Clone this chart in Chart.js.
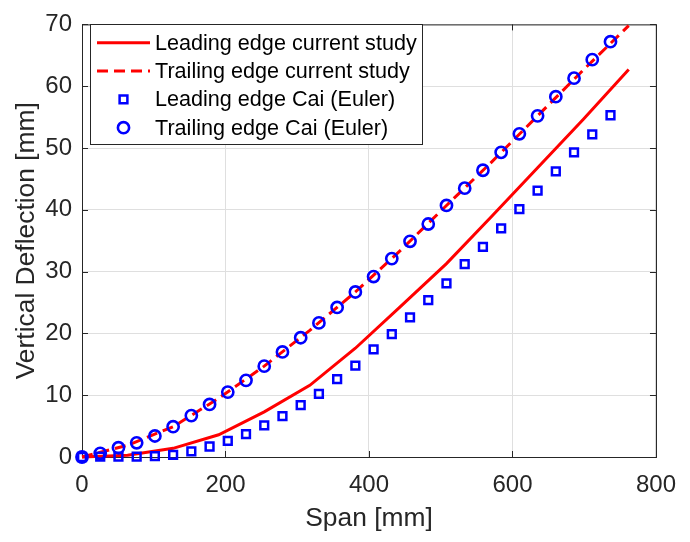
<!DOCTYPE html>
<html>
<head>
<meta charset="utf-8">
<script src="https://cdn.jsdelivr.net/npm/chart.js@4/dist/chart.umd.min.js"></script>
<style>
  body { margin: 0; background: #fff; }
  #wrap { width: 690px; height: 542px; }
</style>
</head>
<body>
<div id="wrap"><canvas id="deflChart" width="690" height="542"></canvas></div>
<script>
// Cai (Euler) reference points, span in mm
const caiSpan = [0, 25.4, 50.8, 76.2, 101.6, 127, 152.4, 177.8, 203.2, 228.6, 254, 279.4, 304.8, 330.2, 355.6,
  381, 406.4, 431.8, 457.2, 482.6, 508, 533.4, 558.8, 584.2, 609.6, 635, 660.4, 685.8, 711.2, 736.6];
const caiLeading = [0, 0.05, 0.05, 0.05, 0.15, 0.35, 0.9, 1.7, 2.6, 3.7, 5.1, 6.6, 8.4, 10.2, 12.6,
  14.8, 17.4, 19.9, 22.6, 25.4, 28.1, 31.2, 34.0, 37.0, 40.1, 43.1, 46.2, 49.3, 52.2, 55.3];
const caiTrailing = [0, 0.6, 1.5, 2.3, 3.4, 4.9, 6.7, 8.5, 10.5, 12.4, 14.7, 17.0, 19.3, 21.7, 24.2,
  26.7, 29.2, 32.1, 34.9, 37.7, 40.7, 43.5, 46.4, 49.3, 52.3, 55.2, 58.3, 61.3, 64.3, 67.2];

// current study nodes
const studySpan = [0, 63.5, 127, 190.5, 254, 317.5, 381, 444.5, 508, 571.5, 635, 698.5, 762];
const studyLeading = [0, 0.3, 1.4, 3.6, 7.3, 11.6, 17.6, 24.4, 31.3, 39.0, 46.8, 54.6, 62.7];
const studyTrailing = [0, 1.9, 4.9, 9.5, 14.7, 20.5, 26.7, 33.5, 40.7, 47.8, 55.2, 62.6, 69.8];

const xTicks = [0, 200, 400, 600, 800];
const yTicks = [0, 10, 20, 30, 40, 50, 60, 70];

const FONT = "'Liberation Sans', Arial, Helvetica, sans-serif";
const AXIS_COLOR = "#262626";

function toPoints(xs, ys) {
  return xs.map((x, i) => ({ x: x, y: ys[i] }));
}

// box + inward ticks like matlab
const boxAxes = {
  id: "boxAxes",
  beforeDatasetsDraw(chart) {
    const { ctx, chartArea: a, scales } = chart;
    ctx.save();
    ctx.strokeStyle = AXIS_COLOR;
    ctx.lineWidth = 1;
    ctx.strokeRect(a.left + 0.5, a.top + 0.5, a.right - a.left, a.bottom - a.top);
    ctx.beginPath();
    xTicks.forEach(v => {
      const px = Math.round(scales.x.getPixelForValue(v)) + 0.5;
      ctx.moveTo(px, a.bottom);
      ctx.lineTo(px, a.bottom - 6);
      ctx.moveTo(px, a.top);
      ctx.lineTo(px, a.top + 6);
    });
    yTicks.forEach(v => {
      const py = Math.round(scales.y.getPixelForValue(v)) + 0.5;
      ctx.moveTo(a.left, py);
      ctx.lineTo(a.left + 6, py);
      ctx.moveTo(a.right, py);
      ctx.lineTo(a.right - 6, py);
    });
    ctx.stroke();
    ctx.restore();
  }
};

// legend box in the upper left corner
const boxLegend = {
  id: "boxLegend",
  afterDraw(chart) {
    const ctx = chart.ctx;
    const box = { left: 90.5, top: 24.5, width: 332, height: 120 };
    const rows = [42.7, 71, 99.3, 127.7];
    ctx.save();
    ctx.fillStyle = "#fff";
    ctx.fillRect(box.left, box.top, box.width, box.height);
    ctx.strokeStyle = AXIS_COLOR;
    ctx.lineWidth = 1;
    ctx.strokeRect(box.left, box.top, box.width, box.height);

    chart.data.datasets.forEach((ds, i) => {
      const y = rows[i];
      if (ds.showLine) {
        ctx.strokeStyle = ds.borderColor;
        ctx.lineWidth = ds.borderWidth;
        ctx.setLineDash(ds.borderDash || []);
        ctx.beginPath();
        ctx.moveTo(97, y);
        ctx.lineTo(150, y);
        ctx.stroke();
        ctx.setLineDash([]);
      } else {
        ctx.strokeStyle = ds.pointBorderColor;
        ctx.fillStyle = "rgba(0,0,0,0)";
        ctx.lineWidth = ds.pointBorderWidth;
        Chart.helpers.drawPoint(ctx, {
          pointStyle: ds.pointStyle,
          radius: ds.pointRadius,
          borderWidth: ds.pointBorderWidth,
          rotation: 0
        }, 123.5, y);
      }
      ctx.fillStyle = "#000";
      ctx.font = "21.6px " + FONT;
      ctx.textBaseline = "middle";
      ctx.textAlign = "left";
      ctx.fillText(ds.label, 155, y + 1);
    });
    ctx.restore();
  }
};

const ctx = document.getElementById("deflChart").getContext("2d");

new Chart(ctx, {
  type: "scatter",
  data: {
    datasets: [
      {
        label: "Leading edge current study",
        data: toPoints(studySpan, studyLeading),
        showLine: true,
        borderColor: "#ff0000",
        borderWidth: 3,
        pointRadius: 0,
        order: 4,
        clip: 12
      },
      {
        label: "Trailing edge current study",
        data: toPoints(studySpan, studyTrailing),
        showLine: true,
        borderColor: "#ff0000",
        borderWidth: 3,
        borderDash: [11, 6],
        pointRadius: 0,
        order: 3,
        clip: 12
      },
      {
        label: "Leading edge Cai (Euler)",
        data: toPoints(caiSpan, caiLeading),
        showLine: false,
        pointStyle: "rect",
        pointRadius: 5.5,
        pointBorderWidth: 2.5,
        pointBorderColor: "#0000ff",
        pointBackgroundColor: "rgba(0,0,0,0)",
        order: 2,
        clip: 12
      },
      {
        label: "Trailing edge Cai (Euler)",
        data: toPoints(caiSpan, caiTrailing),
        showLine: false,
        pointStyle: "circle",
        pointRadius: 5.6,
        pointBorderWidth: 2.6,
        pointBorderColor: "#0000ff",
        pointBackgroundColor: "rgba(0,0,0,0)",
        order: 1,
        clip: 12
      }
    ]
  },
  options: {
    responsive: false,
    animation: false,
    devicePixelRatio: 1,
    layout: { padding: { left: 0, top: 10, right: 21, bottom: 0 } },
    plugins: {
      legend: { display: false },
      tooltip: { enabled: false }
    },
    scales: {
      x: {
        type: "linear",
        min: 0,
        max: 800,
        afterFit: s => { s.height = 85; },
        afterBuildTicks: s => { s.ticks = xTicks.map(v => ({ value: v })); },
        border: { display: false },
        grid: { color: "#dfdfdf", lineWidth: 1, drawTicks: false },
        ticks: { color: AXIS_COLOR, padding: 14, font: { family: FONT, size: 24 }, maxRotation: 0 },
        title: {
          display: true,
          text: "Span [mm]",
          color: AXIS_COLOR,
          font: { family: FONT, size: 26.4 },
          padding: { top: 0, bottom: 7 }
        }
      },
      y: {
        type: "linear",
        min: 0,
        max: 70,
        afterFit: s => { s.width = 82; },
        afterBuildTicks: s => { s.ticks = yTicks.map(v => ({ value: v })); },
        border: { display: false },
        grid: { color: "#dfdfdf", lineWidth: 1, drawTicks: false },
        ticks: { color: AXIS_COLOR, padding: 10, font: { family: FONT, size: 24 } },
        title: {
          display: true,
          text: "Vertical Deflection [mm]",
          color: AXIS_COLOR,
          font: { family: FONT, size: 26.4 },
          padding: { top: 11, bottom: 0 }
        }
      }
    }
  },
  plugins: [boxAxes, boxLegend]
});
</script>
</body>
</html>
